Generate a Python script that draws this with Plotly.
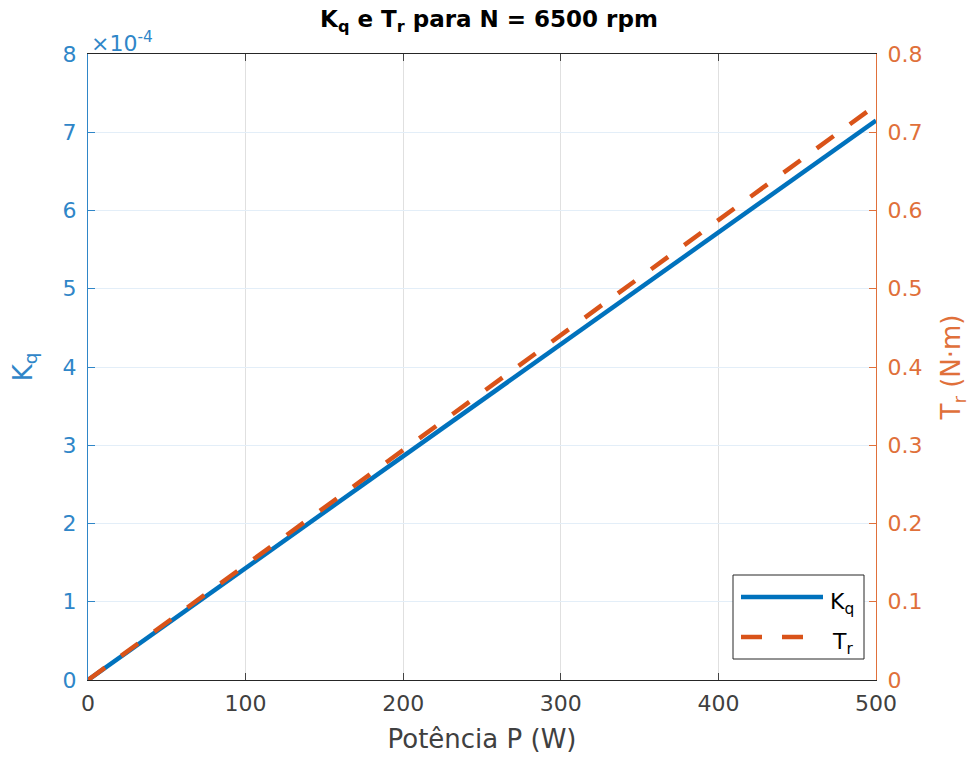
import plotly.graph_objects as go

P = [0, 100, 200, 300, 400, 500]
Kq = [0, 1.43e-4, 2.86e-4, 4.29e-4, 5.72e-4, 7.15e-4]
Tr = [0, 0.1469, 0.2938, 0.4407, 0.5876, 0.7346]
x_ticks = [0, 100, 200, 300, 400, 500]
kq_ticks = [0, 1e-4, 2e-4, 3e-4, 4e-4, 5e-4, 6e-4, 7e-4, 8e-4]
kq_ticktext = ["0", "1", "2", "3", "4", "5", "6", "7", "8"]
tr_ticks = [0, 0.1, 0.2, 0.3, 0.4, 0.5, 0.6, 0.7, 0.8]
tr_ticktext = ["0", "0.1", "0.2", "0.3", "0.4", "0.5", "0.6", "0.7", "0.8"]
legend_names = ["K<sub>q</sub>", "T<sub>r</sub>"]

BLUE = "#0072BD"
ORANGE = "#D95319"
AXBLUE = "#2f86c8"
AXORANGE = "#e0703a"
FONT = "DejaVu Sans"
DASH = "21px,20px"

W, H = 978, 763
L, R, T, B = 88, 102, 54, 83
PW, PH = W - L - R, H - T - B


def px(x):
    return (x - L) / PW


def py(y):
    return (H - B - y) / PH


fig = go.Figure()
fig.add_trace(go.Scatter(x=P, y=Kq, mode="lines", name=legend_names[0],
                         line=dict(color=BLUE, width=4.5), yaxis="y", showlegend=False))
fig.add_trace(go.Scatter(x=P, y=Tr, mode="lines", name=legend_names[1],
                         line=dict(color=ORANGE, width=4.5, dash=DASH), yaxis="y2", showlegend=False))

fig.update_layout(
    width=W, height=H,
    margin=dict(l=L, r=R, t=T, b=B, autoexpand=False),
    plot_bgcolor="white", paper_bgcolor="white",
    font=dict(family=FONT, size=22, color="#262626"),
    title=dict(text="<b>K<sub>q</sub> e T<sub>r</sub> para N = 6500 rpm</b>",
               x=0.5, xanchor="center", y=0.986, yanchor="top",
               font=dict(size=23, color="#000000", family=FONT)),
    xaxis=dict(range=[0, 500], tickvals=x_ticks, ticks="inside", ticklen=7,
               showline=True, linecolor="#262626", linewidth=1, mirror="ticks",
               showgrid=True, gridcolor="#e0e0e0", gridwidth=1, zeroline=False,
               ticklabelstandoff=4,
               tickfont=dict(size=22, color="#404040"),
               title=dict(text="Potência P (W)", font=dict(size=26, color="#404040"), standoff=14)),
    yaxis=dict(range=[0, 8e-4], tickvals=kq_ticks, ticktext=kq_ticktext,
               ticks="inside", ticklen=7, tickcolor=AXBLUE,
               showline=True, linecolor=AXBLUE, linewidth=1,
               showgrid=True, gridcolor="#e3eef8", gridwidth=1, zeroline=False,
               ticklabelstandoff=6,
               tickfont=dict(size=22, color=AXBLUE),
               title=dict(text="K<sub>q</sub>", font=dict(size=26, color=AXBLUE), standoff=22)),
    yaxis2=dict(range=[0, 0.8], tickvals=tr_ticks, ticktext=tr_ticktext,
                overlaying="y", side="right",
                ticks="inside", ticklen=7, tickcolor=AXORANGE,
                showline=True, linecolor=AXORANGE, linewidth=1,
                showgrid=False, zeroline=False,
                ticklabelstandoff=6,
                tickfont=dict(size=22, color=AXORANGE),
                title=dict(text="T<sub>r</sub> (N·m)", font=dict(size=26, color=AXORANGE), standoff=20)),
    showlegend=False,
)

fig.add_annotation(text="×10<sup>-4</sup>", xref="paper", yref="paper",
                   x=px(89), y=1.0, xanchor="left", yanchor="bottom", showarrow=False,
                   font=dict(size=22, color=AXBLUE, family=FONT), yshift=-4)

# Legend box (MATLAB style)
fig.add_shape(type="rect", xref="paper", yref="paper",
              x0=px(733), x1=px(864), y0=py(659), y1=py(575),
              line=dict(color="#262626", width=1), fillcolor="white", layer="above")
fig.add_shape(type="line", xref="paper", yref="paper",
              x0=px(741), x1=px(823), y0=py(597), y1=py(597),
              line=dict(color=BLUE, width=4.5), layer="above")
fig.add_shape(type="line", xref="paper", yref="paper",
              x0=px(741), x1=px(823), y0=py(637), y1=py(637),
              line=dict(color=ORANGE, width=4.5, dash=DASH), layer="above")
fig.add_annotation(text=legend_names[0], xref="paper", yref="paper",
                   x=px(828), y=py(603), xanchor="left", yanchor="middle", showarrow=False,
                   font=dict(size=22, color="#000000", family=FONT))
fig.add_annotation(text=legend_names[1], xref="paper", yref="paper",
                   x=px(830), y=py(643), xanchor="left", yanchor="middle", showarrow=False,
                   font=dict(size=22, color="#000000", family=FONT))

fig.write_html("out.html")
